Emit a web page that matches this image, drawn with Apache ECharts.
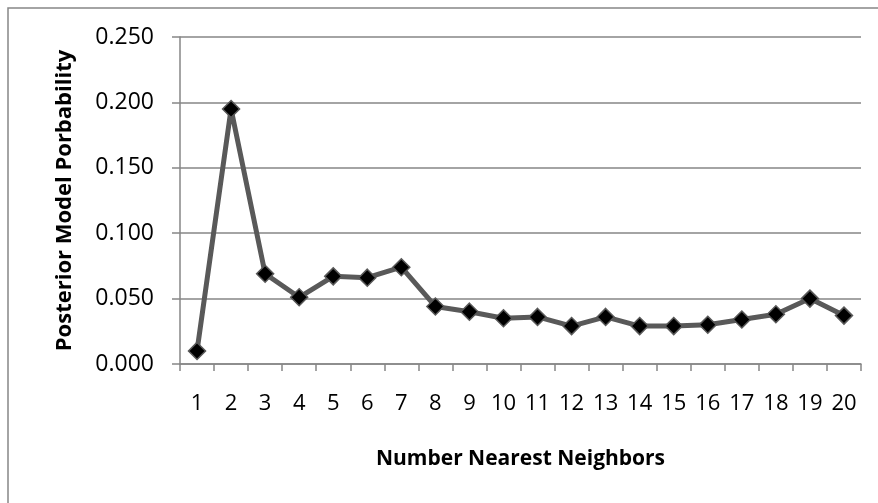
<!DOCTYPE html>
<html>
<head>
<meta charset="utf-8">
<script src="https://cdn.jsdelivr.net/npm/echarts@6/dist/echarts.min.js"></script>
<style>
  html, body { margin: 0; padding: 0; background: #fff; }
  #chart { width: 878px; height: 503px; }
</style>
</head>
<body>
<div id="chart"></div>
<script>
// data
const neighbors = ['1', '2', '3', '4', '5', '6', '7', '8', '9', '10',
  '11', '12', '13', '14', '15', '16', '17', '18', '19', '20'];
const posteriorProb = [0.010, 0.195, 0.069, 0.051, 0.067, 0.066, 0.074, 0.044, 0.040, 0.035,
  0.036, 0.029, 0.036, 0.029, 0.029, 0.030, 0.034, 0.038, 0.050, 0.037];
const yTicks = { min: 0, max: 0.25, step: 0.05 };

const font = '"Open Sans", "Liberation Sans", sans-serif';
const gray = '#868686';

const chart = echarts.init(document.getElementById('chart'));

chart.setOption({
  animation: false,
  backgroundColor: '#fff',
  grid: { left: 180, right: 17, top: 37, bottom: 139 },
  graphic: [{
    type: 'rect',
    shape: { x: 8, y: 8, width: 900, height: 520 },
    style: { fill: 'none', stroke: gray, lineWidth: 1.5 },
    silent: true
  }],
  xAxis: {
    type: 'category',
    data: neighbors,
    boundaryGap: true,
    name: 'Number Nearest Neighbors',
    nameLocation: 'middle',
    nameGap: 85,
    nameTextStyle: { fontFamily: font, fontSize: 21, fontWeight: 'bold', color: '#000' },
    axisLine: { lineStyle: { color: gray, width: 1.5 } },
    axisTick: { show: true, length: 7, lineStyle: { color: gray, width: 1.5 } },
    axisLabel: { fontFamily: font, fontSize: 22, color: '#000', margin: 29, interval: 0 },
    splitLine: { show: false }
  },
  yAxis: {
    type: 'value',
    min: yTicks.min,
    max: yTicks.max,
    interval: yTicks.step,
    name: 'Posterior Model Porbability',
    nameLocation: 'middle',
    nameRotate: 90,
    nameGap: 104,
    nameTextStyle: { fontFamily: font, fontSize: 22, fontWeight: 'bold', color: '#000' },
    axisLine: { show: true, lineStyle: { color: gray, width: 1.5 } },
    axisTick: { show: true, length: 8, lineStyle: { color: gray, width: 1.5 } },
    axisLabel: {
      fontFamily: font, fontSize: 23, color: '#000', margin: 26,
      formatter: v => v.toFixed(3)
    },
    splitLine: { show: true, lineStyle: { color: gray, width: 1.5 } }
  },
  series: [{
    type: 'line',
    data: posteriorProb,
    symbol: 'diamond',
    symbolSize: 17,
    lineStyle: { color: '#595959', width: 5 },
    itemStyle: { color: '#000', borderColor: '#595959', borderWidth: 1.5 }
  }]
});
</script>
</body>
</html>
